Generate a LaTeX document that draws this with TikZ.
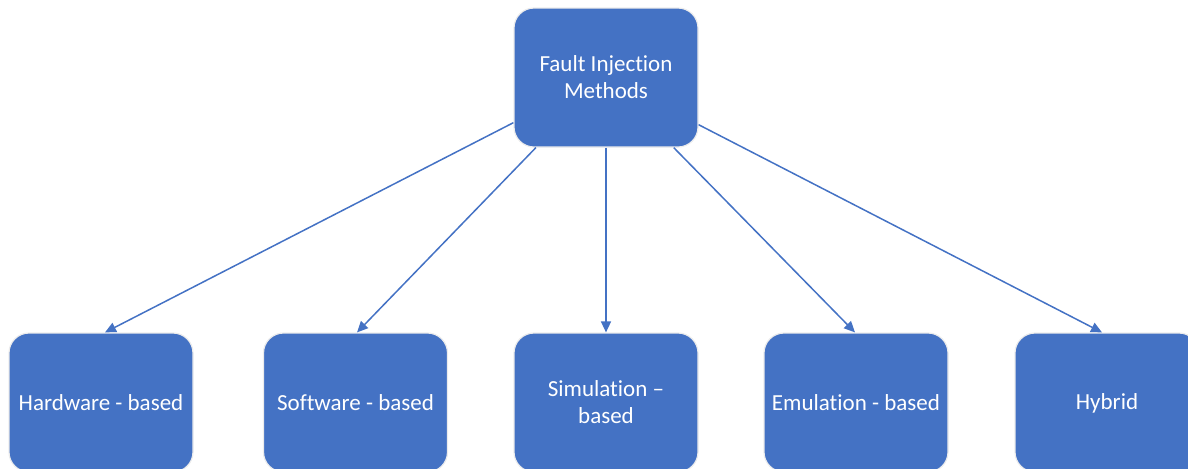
\documentclass[tikz,border=0pt]{standalone}
\usepackage{fontspec}
\setmainfont{Carlito}[Ligatures={NoCommon}]
\usetikzlibrary{arrows.meta}
\definecolor{boxblue}{HTML}{4472C4}
\tikzset{
  box/.style={rectangle, rounded corners=10pt, fill=boxblue, draw=white!85!gray, line width=0.6pt,
    minimum width=92pt, minimum height=69.5pt, inner sep=2pt, text=white, align=center,
    font=\fontsize{11.5}{13.5}\selectfont},
  conn/.style={draw=boxblue, line width=0.75pt, -{Triangle[length=5.5pt,width=5pt]}}
}
\begin{document}
\begin{tikzpicture}[x=0.5pt,y=-0.5pt]
\useasboundingbox (0,0) rectangle (1188,468);
\node[box] (top) at (606,77.5) {Fault Injection\\Methods};
\node[box] (hw) at (101,402.5) {Hardware - based};
\node[box] (sw) at (355.5,402.5) {Software - based};
\node[box] (sim) at (606,402.5) {Simulation –\\based};
\node[box] (emu) at (856,402.5) {Emulation - based};
\node[box] (hyb) at (1107,402.5) {\smash{Hybrid}\vphantom{H}};
\draw[conn] (top.206.8) -- ([xshift=2pt]hw.north);
\draw[conn] (top.225.6) -- ([xshift=0.75pt]sw.north);
\draw[conn] (top.south) -- (sim.north);
\draw[conn] (top.314.8) -- ([xshift=-0.5pt]emu.north);
\draw[conn] (top.333.2) -- ([xshift=-2.5pt]hyb.north);
\end{tikzpicture}
\end{document}
